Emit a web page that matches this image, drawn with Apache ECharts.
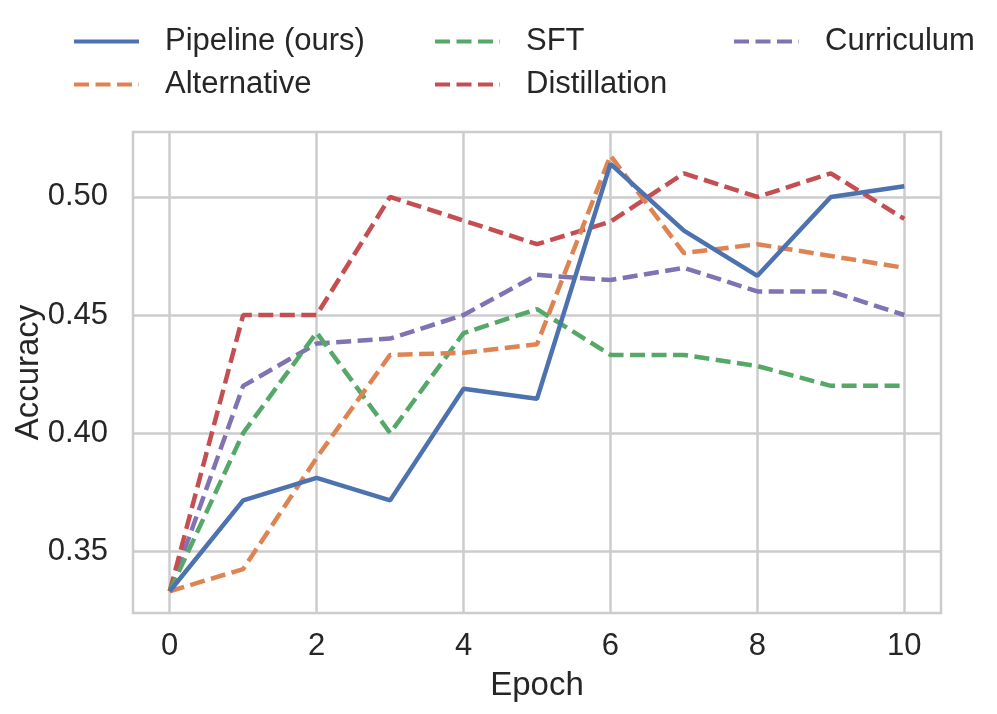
<!DOCTYPE html>
<html>
<head>
<meta charset="utf-8">
<script src="https://cdn.jsdelivr.net/npm/echarts@6/dist/echarts.min.js"></script>
<style>html,body{margin:0;padding:0;background:#fff}#c{width:997px;height:714px}</style>
</head>
<body>
<div id="c"></div>
<script>
const epochs = [0,1,2,3,4,5,6,7,8,9,10];
const pipeline = [0.333,0.3715,0.381,0.3715,0.4188,0.4145,0.514,0.4857,0.4666,0.500,0.5045];
const alternative = [0.333,0.3424,0.3895,0.4331,0.434,0.4376,0.5175,0.4762,0.480,0.475,0.470];
const sft = [0.333,0.400,0.4426,0.400,0.4423,0.4525,0.4331,0.4331,0.4284,0.420,0.420];
const distillation = [0.333,0.450,0.450,0.500,0.490,0.480,0.4895,0.510,0.500,0.510,0.4907];
const curriculum = [0.333,0.420,0.4379,0.440,0.450,0.467,0.4648,0.470,0.460,0.460,0.450];
const xTicks = [0,2,4,6,8,10];
const yTicks = [0.35,0.40,0.45,0.50];
const names = ['Pipeline (ours)','Alternative','SFT','Distillation','Curriculum'];
const colors = ['#4c72b0','#dd8452','#55a868','#c44e52','#8172b3'];
const seriesData = [pipeline, alternative, sft, distillation, curriculum];

const FONT = 'Liberation Sans, Arial, Helvetica, sans-serif';
const chart = echarts.init(document.getElementById('c'), null, {renderer:'canvas'});
const legendBase = {
  orient:'vertical', top:21, itemWidth:65, itemHeight:16, itemGap:12,
  itemStyle:{opacity:0},
  lineStyle:{width:4},
  textStyle:{fontFamily:FONT, fontSize:31, color:'#262626', lineHeight:31, padding:[0,0,0,21]},
  selectedMode:false
};
const option = {
  backgroundColor:'#ffffff',
  animation:false,
  legend:[
    Object.assign({}, legendBase, {left:67, data:[names[0], names[1]]}),
    Object.assign({}, legendBase, {left:428, data:[names[2], names[3]]}),
    Object.assign({}, legendBase, {left:727, data:[names[4]]})
  ],
  grid:{left:133, right:56, top:132, bottom:101, show:true, borderColor:'#cccccc', borderWidth:2.5,
    containLabel:false, outerBoundsMode:'none'},
  xAxis:{
    type:'value', min:-0.5, max:10.5,
    name:'Epoch', nameLocation:'middle', nameGap:56, nameMoveOverlap:false,
    nameTextStyle:{fontFamily:FONT, fontSize:33, color:'#262626'},
    axisLine:{show:false},
    axisTick:{show:false, customValues:xTicks},
    axisLabel:{customValues:xTicks, fontFamily:FONT, fontSize:31, color:'#262626', margin:18},
    splitLine:{show:true, lineStyle:{color:'#cccccc', width:2.5}}
  },
  yAxis:{
    type:'value', min:0.3238, max:0.5275,
    name:'Accuracy', nameLocation:'middle', nameGap:88, nameMoveOverlap:false,
    nameTextStyle:{fontFamily:FONT, fontSize:33, color:'#262626'},
    axisLine:{show:false},
    axisTick:{show:false, customValues:yTicks},
    axisLabel:{customValues:yTicks, fontFamily:FONT, fontSize:31, color:'#262626', margin:25,
      formatter:v=>v.toFixed(2)},
    splitLine:{show:true, lineStyle:{color:'#cccccc', width:2.5}}
  },
  series: names.map((n,i)=>({
    name:n, type:'line', symbol:'none', z: 10-i,
    data: epochs.map((e,j)=>[e, seriesData[i][j]]),
    lineStyle:{color:colors[i], width:4.5, type: i===0 ? 'solid' : [15,6.5], cap:'butt'},
    itemStyle:{color:colors[i]}
  }))
};
chart.setOption(option);
</script>
</body>
</html>
